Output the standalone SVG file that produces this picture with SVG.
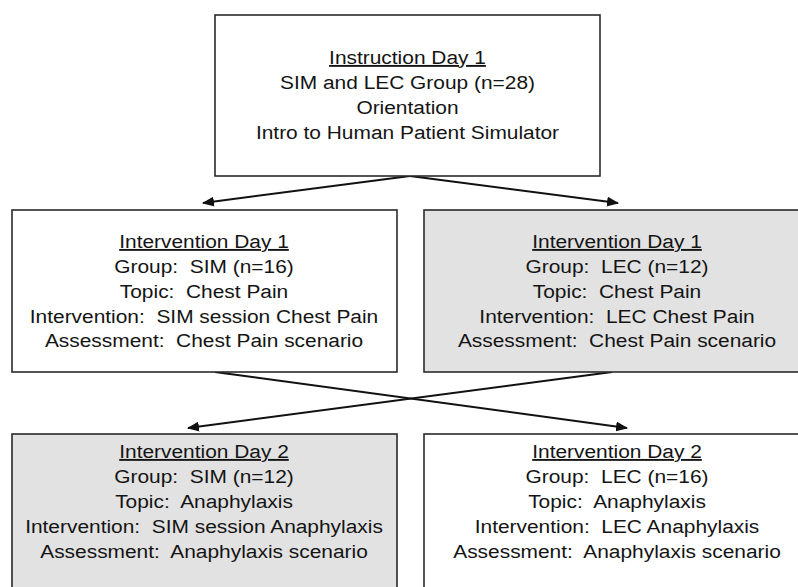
<svg xmlns="http://www.w3.org/2000/svg" width="798" height="587" viewBox="0 0 798 587" xml:space="preserve">
<style>
.box{stroke:#2a2a2a;stroke-width:1.6}
.w{fill:#ffffff}
.g{fill:#e2e2e2}
text{font-family:"Liberation Sans",Arial,sans-serif;font-size:19px;fill:#141414;text-anchor:middle;white-space:pre}
.u{text-decoration:underline}
.con{stroke:#111;stroke-width:2;fill:none}
</style>
<defs>
<marker id="ah" viewBox="0 0 12 10" refX="11" refY="5" markerWidth="12" markerHeight="10" markerUnits="userSpaceOnUse" orient="auto">
<path d="M0,0 L12,5 L0,10 Z" fill="#111"/>
</marker>
</defs>
<rect width="798" height="587" fill="#ffffff"/>
<g id="connectors">
<line class="con" x1="410" y1="176" x2="203" y2="203" marker-end="url(#ah)"/>
<line class="con" x1="410" y1="176" x2="618" y2="203" marker-end="url(#ah)"/>
<line class="con" x1="215" y1="372" x2="627" y2="428" marker-end="url(#ah)"/>
<line class="con" x1="612" y1="372" x2="188" y2="428" marker-end="url(#ah)"/>
</g>
<g id="instruction">
<rect class="box w" x="215" y="15" width="385" height="161"/>
<text class="u" transform="translate(407.5,64) scale(1.1,1)">Instruction Day 1</text>
<text transform="translate(407.5,89) scale(1.1,1)">SIM and LEC Group (n=28)</text>
<text transform="translate(407.5,114) scale(1.1,1)">Orientation</text>
<text transform="translate(407.5,139) scale(1.1,1)">Intro to Human Patient Simulator</text>
</g>
<g id="day1-sim">
<rect class="box w" x="12" y="210" width="385" height="162"/>
<text class="u" transform="translate(204,248) scale(1.1,1)">Intervention Day 1</text>
<text transform="translate(204,273) scale(1.1,1)">Group:  SIM (n=16)</text>
<text transform="translate(204,298) scale(1.1,1)">Topic:  Chest Pain</text>
<text transform="translate(204,323) scale(1.1,1)">Intervention:  SIM session Chest Pain</text>
<text transform="translate(204,347) scale(1.1,1)">Assessment:  Chest Pain scenario</text>
</g>
<g id="day1-lec">
<rect class="box g" x="424" y="210" width="390" height="162"/>
<text class="u" transform="translate(617,248) scale(1.1,1)">Intervention Day 1</text>
<text transform="translate(617,273) scale(1.1,1)">Group:  LEC (n=12)</text>
<text transform="translate(617,298) scale(1.1,1)">Topic:  Chest Pain</text>
<text transform="translate(617,323) scale(1.1,1)">Intervention:  LEC Chest Pain</text>
<text transform="translate(617,347) scale(1.1,1)">Assessment:  Chest Pain scenario</text>
</g>
<g id="day2-sim">
<rect class="box g" x="12" y="434" width="385" height="170"/>
<text class="u" transform="translate(204,458) scale(1.1,1)">Intervention Day 2</text>
<text transform="translate(204,483) scale(1.1,1)">Group:  SIM (n=12)</text>
<text transform="translate(204,508) scale(1.1,1)">Topic:  Anaphylaxis</text>
<text transform="translate(204,533) scale(1.1,1)">Intervention:  SIM session Anaphylaxis</text>
<text transform="translate(204,558) scale(1.1,1)">Assessment:  Anaphylaxis scenario</text>
</g>
<g id="day2-lec">
<rect class="box w" x="424" y="434" width="390" height="170"/>
<text class="u" transform="translate(617,458) scale(1.1,1)">Intervention Day 2</text>
<text transform="translate(617,483) scale(1.1,1)">Group:  LEC (n=16)</text>
<text transform="translate(617,508) scale(1.1,1)">Topic:  Anaphylaxis</text>
<text transform="translate(617,533) scale(1.1,1)">Intervention:  LEC Anaphylaxis</text>
<text transform="translate(617,558) scale(1.1,1)">Assessment:  Anaphylaxis scenario</text>
</g>
</svg>
